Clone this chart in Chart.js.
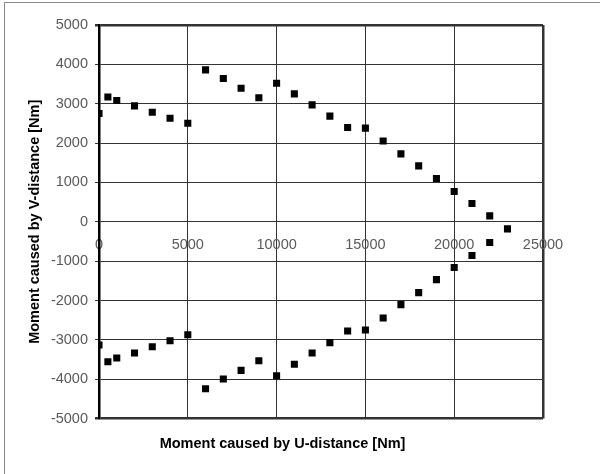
<!DOCTYPE html>
<html>
<head>
<meta charset="utf-8">
<script src="https://cdn.jsdelivr.net/npm/chart.js@4/dist/chart.umd.min.js"></script>
<style>
  html, body { margin: 0; padding: 0; background: #fff; }
  #wrap { position: relative; width: 600px; height: 474px; overflow: hidden; }
  #frame { position: absolute; left: 4px; top: 2px; width: 800px; height: 800px;
           border-top: 1px solid #8a8a8a; border-left: 1px solid #8a8a8a; pointer-events: none; }
  canvas { position: absolute; left: 0; top: 0; }
</style>
</head>
<body>
<div id="wrap">
  <canvas id="c" width="600" height="474"></canvas>
  <div id="frame"></div>
</div>
<script>
// U-distance moment [Nm] (x) and V-distance moment [Nm] (y)
const upperU = [0, 500, 1000, 2000, 3000, 4000, 5000, 6000, 7000, 8000, 9000, 10000, 11000, 12000, 13000, 14000, 15000, 16000, 17000, 18000, 19000, 20000, 21000, 22000, 23000];
const upperV = [2750, 3170, 3080, 2945, 2785, 2630, 2505, 3860, 3640, 3395, 3150, 3520, 3250, 2970, 2685, 2395, 2380, 2055, 1725, 1420, 1100, 770, 465, 150, -180];
const lowerU = [0, 500, 1000, 2000, 3000, 4000, 5000, 6000, 7000, 8000, 9000, 10000, 11000, 12000, 13000, 14000, 15000, 16000, 17000, 18000, 19000, 20000, 21000, 22000];
const lowerV = [-3130, -3555, -3460, -3335, -3175, -3020, -2870, -4240, -3995, -3775, -3530, -3910, -3620, -3335, -3070, -2775, -2750, -2445, -2105, -1800, -1470, -1160, -855, -525];

const xTitle = 'Moment caused by U-distance [Nm]';
const yTitle = 'Moment caused by V-distance [Nm]';
const xMin = 0, xMax = 25000, xStep = 5000;
const yMin = -5000, yMax = 5000, yStep = 1000;

const toPoints = (xs, ys) => xs.map((x, i) => ({ x: x, y: ys[i] }));

const pointStyle = {
  pointStyle: 'rect',
  pointRadius: 5,
  pointBorderWidth: 0,
  backgroundColor: '#000',
  borderColor: '#000',
  showLine: false
};

new Chart(document.getElementById('c'), {
  type: 'scatter',
  data: {
    datasets: [
      Object.assign({ label: 'upper', data: toPoints(upperU, upperV) }, pointStyle),
      Object.assign({ label: 'lower', data: toPoints(lowerU, lowerV) }, pointStyle)
    ]
  },
  options: {
    responsive: false,
    animation: false,
    layout: { padding: { left: 22, top: 25, right: 57, bottom: 15 } },
    plugins: {
      legend: { display: false },
      tooltip: { enabled: false },
      title: {
        display: true,
        position: 'bottom',
        text: xTitle,
        color: '#000',
        font: { family: 'Arial, "Liberation Sans", sans-serif', size: 14.5, weight: 'bold' },
        padding: { top: 17, bottom: 6 }
      }
    },
    scales: {
      x: {
        type: 'linear',
        position: { y: 0 },
        min: xMin, max: xMax,
        ticks: {
          stepSize: xStep,
          color: '#5a5a5a',
          padding: 14,
          maxRotation: 0,
          font: { family: 'Arial, "Liberation Sans", sans-serif', size: 14.5 },
          callback: v => String(v)
        },
        grid: {
          color: '#333',
          lineWidth: c => (c.tick && c.tick.value === xMax) ? 2.5 : 1,
          drawTicks: false
        },
        border: { display: false }
      },
      y: {
        type: 'linear',
        position: 'left',
        min: yMin, max: yMax,
        afterFit: s => { s.width = 77; },
        ticks: {
          stepSize: yStep,
          color: '#5a5a5a',
          padding: 7,
          font: { family: 'Arial, "Liberation Sans", sans-serif', size: 14.5 },
          callback: v => String(v)
        },
        grid: {
          color: '#333',
          lineWidth: c => (c.tick && (c.tick.value === yMax || c.tick.value === yMin)) ? 2.5 : 1,
          tickLength: 4
        },
        border: { display: true, color: '#000', width: 2.5 },
        title: {
          display: true,
          text: yTitle,
          color: '#000',
          font: { family: 'Arial, "Liberation Sans", sans-serif', size: 14.5, weight: 'bold' },
          padding: { top: 4, bottom: 0 }
        }
      }
    }
  }
});
</script>
</body>
</html>
